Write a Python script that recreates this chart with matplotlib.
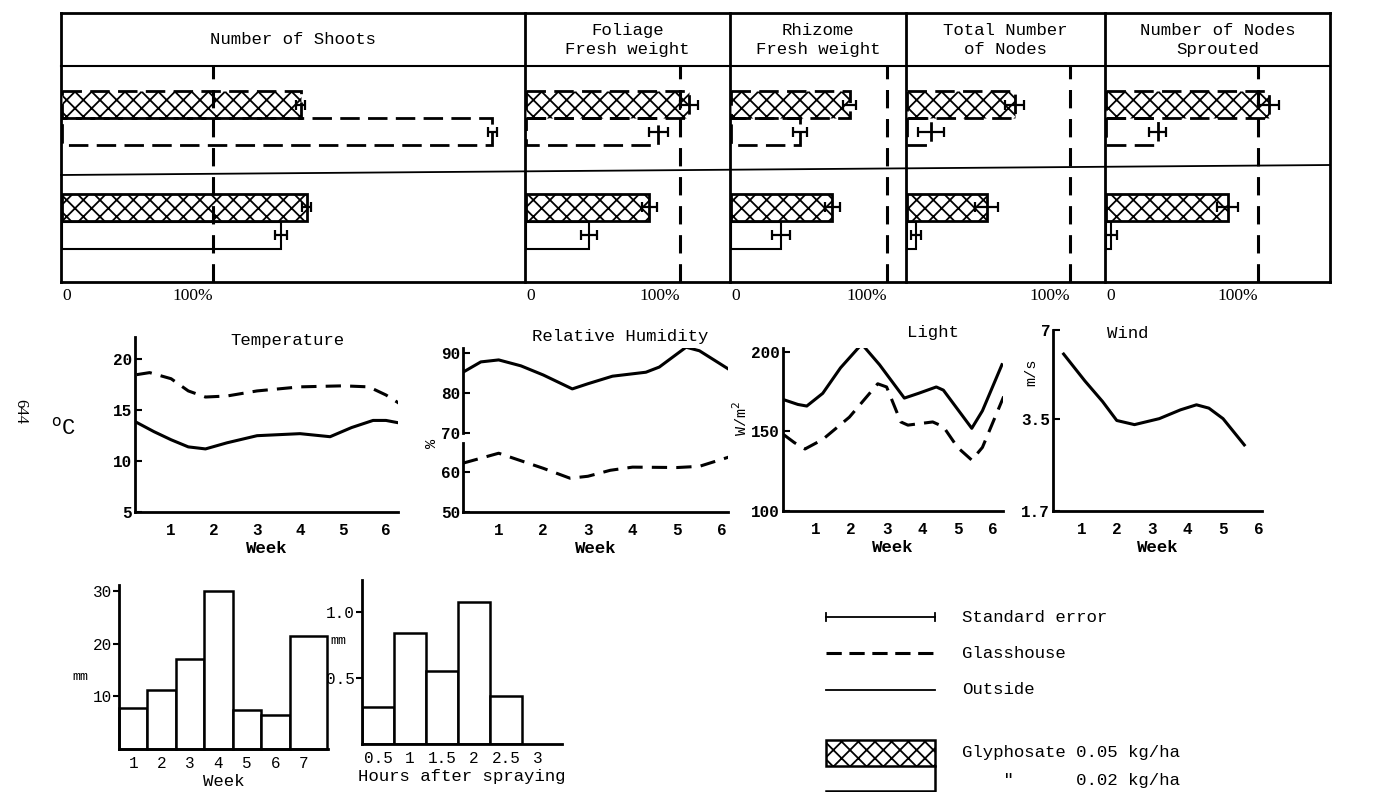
import numpy as np
import matplotlib
matplotlib.use("Agg")
import matplotlib.pyplot as plt
from matplotlib.patches import Rectangle
from matplotlib.ticker import FixedLocator, NullLocator

plt.rcParams['font.family'] = ['Liberation Mono', 'DejaVu Sans Mono']
plt.rcParams['hatch.linewidth'] = 1.3

# ---- data: top panel (% of untreated control) ----
metrics = ["Number of Shoots", "Foliage\nFresh weight", "Rhizome\nFresh weight",
           "Total Number\nof Nodes", "Number of Nodes\nSprouted"]
gh_high = [158, 106, 76, 66, 107]      # glasshouse, 0.05 kg/ha
gh_high_se = [3, 6, 4, 6, 7]
gh_low = [285, 86, 44, 15, 34]         # glasshouse, 0.02 kg/ha
gh_low_se = [3, 6, 4.5, 8, 5.5]
out_high = [162, 80, 65, 49, 80]       # outside, 0.05 kg/ha
out_high_se = [3, 5, 5, 7, 7]
out_low = [145, 41, 32, 5.5, 3]        # outside, 0.02 kg/ha
out_low_se = [4, 5, 5.5, 3, 4]

# ---- data: weather ----
temp_gh_wk = [0.2, 0.5, 1.0, 1.4, 1.8, 2.3, 3.0, 4.0, 5.0, 5.6, 6.0, 6.3]
temp_gh = [18.5, 18.7, 18.1, 16.9, 16.3, 16.4, 16.9, 17.3, 17.4, 17.3, 16.5, 15.7]
temp_out_wk = [0.2, 0.6, 1.0, 1.4, 1.8, 2.3, 3.0, 4.0, 4.7, 5.2, 5.7, 6.0, 6.25]
temp_out = [13.8, 12.9, 12.1, 11.4, 11.2, 11.8, 12.5, 12.7, 12.4, 13.3, 14.0, 14.0, 13.8]

rh_out_wk = [0.2, 0.6, 1.0, 1.5, 2.0, 2.65, 3.0, 3.55, 4.3, 4.6, 5.2, 5.5, 6.15]
rh_out = [85.2, 87.8, 88.3, 86.8, 84.5, 81.0, 82.3, 84.2, 85.2, 86.5, 91.5, 90.6, 86.0]
rh_gh_wk = [0.2, 1.0, 2.0, 2.6, 3.0, 3.5, 4.0, 5.0, 5.5, 6.15]
rh_gh = [62.3, 64.8, 61.0, 58.5, 59.0, 60.5, 61.3, 61.2, 61.5, 63.8]

light_out_wk = [0.1, 0.5, 0.75, 1.2, 1.7, 2.3, 2.8, 3.5, 3.9, 4.4, 4.6, 5.0, 5.4, 5.7, 6.25]
light_out = [170, 167, 166, 174, 190, 205, 192, 171, 174, 178, 176, 164, 152, 163, 192]
light_gh_wk = [0.1, 0.4, 0.7, 1.2, 1.95, 2.75, 3.0, 3.4, 3.6, 4.3, 4.6, 5.0, 5.4, 5.7, 6.3]
light_gh = [148, 143, 139, 145, 159, 180, 178, 156, 154, 156, 153, 140, 132, 140, 172]

wind_wk = [0.5, 1.1, 1.6, 2.0, 2.5, 3.2, 3.8, 4.25, 4.6, 5.0, 5.6]
wind = [5.8, 4.7, 4.0, 3.45, 3.34, 3.5, 3.75, 3.9, 3.8, 3.5, 2.85]

rain_weeks = [1, 2, 3, 4, 5, 6, 7]
rain_mm = [7.7, 11.1, 17.1, 30, 7.4, 6.5, 21.4]
hours = [0.5, 1, 1.5, 2, 2.5]
hour_labels = ["0.5", "1", "1.5", "2", "2.5", "3"]
hour_mm = [0.28, 0.84, 0.55, 1.07, 0.36]

W, H = 1399, 792
fig = plt.figure(figsize=(W / 100, H / 100), dpi=100)
fig.patch.set_facecolor('white')


def px_axes(l, t, r, b):
    a = fig.add_axes([l / W, 1 - b / H, (r - l) / W, (b - t) / H])
    a.patch.set_alpha(0)
    return a


ov = fig.add_axes([0, 0, 1, 1])
ov.set_xlim(0, W)
ov.set_ylim(H, 0)
ov.axis('off')

dash_bar = (0, (7, 3))
dash_ref = (0, (6, 3.5))
dash_curve = (0, (5, 3))

# ---- top panel frame ----
col_edges = [61, 525, 730, 906, 1105, 1330]
zero_px = [62, 526, 731, 907, 1106]
full_px = [213, 680, 887, 1070, 1258]
top_y, head_y, bot_y = 13, 66, 282
lk = dict(color='black', lw=2)
ov.plot([61, 1330], [top_y, top_y], **lk)
ov.plot([61, 1330], [head_y, head_y], color='black', lw=1.5)
ov.plot([61, 1330], [bot_y, bot_y], **lk)
ov.plot([61, 1330], [175, 165], color='black', lw=1.3)
for x in col_edges:
    ov.plot([x, x], [top_y, bot_y], **lk)

for i, name in enumerate(metrics):
    cx = (col_edges[i] + col_edges[i + 1]) / 2
    ov.text(cx, 40, name, ha='center', va='center', fontsize=12.5, linespacing=1.35)

    ax = px_axes(col_edges[i], head_y, col_edges[i + 1], bot_y)
    scale = (full_px[i] - zero_px[i]) / 100.0
    ax.set_xlim((col_edges[i] - zero_px[i]) / scale, (col_edges[i + 1] - zero_px[i]) / scale)
    ax.set_ylim(8, 0)
    for s in ax.spines.values():
        s.set_visible(False)
    ax.set_yticks([])
    ax.set_xticks([0, 100])
    ax.set_xticklabels(['' if i == 3 else '0', '100%'], family='Liberation Serif', fontsize=12.5)
    ax.get_xticklabels()[0].set_ha('left')
    ax.get_xticklabels()[1].set_ha('right')
    ax.tick_params(axis='x', length=0, pad=4)

    bh = 1.0
    ax.barh(1.43, gh_high[i], height=bh, color='white', edgecolor='black', hatch='xx',
            lw=2, ls=dash_bar)
    ax.barh(2.44, gh_low[i], height=bh, fill=False, edgecolor='black', lw=2, ls=dash_bar)
    ax.barh(5.24, out_high[i], height=bh, color='white', edgecolor='black', hatch='xx', lw=2)
    ax.barh(6.26, out_low[i], height=bh, fill=False, edgecolor='black', lw=1.5)
    ax.errorbar([gh_high[i], gh_low[i], out_high[i], out_low[i]], [1.43, 2.44, 5.24, 6.26],
                xerr=[gh_high_se[i], gh_low_se[i], out_high_se[i], out_low_se[i]],
                fmt='none', ecolor='black', elinewidth=1.6, capsize=3.5, capthick=1.6)
    ax.axvline(100, color='black', lw=2.2, ls=dash_ref)


# ---- weather line plots ----
def style_line_axes(ax, yticks, ylabels):
    for s in ['top', 'right']:
        ax.spines[s].set_visible(False)
    for s in ['left', 'bottom']:
        ax.spines[s].set_linewidth(2)
    ax.set_yticks(yticks)
    ax.set_yticklabels(ylabels, fontsize=11.5, weight='bold')
    ax.yaxis.set_minor_locator(NullLocator())
    ax.tick_params(axis='y', direction='in', length=5, width=1.5, pad=2)
    ax.set_xticks([1, 2, 3, 4, 5, 6])
    ax.set_xticklabels(['1', '2', '3', '4', '5', '6'], fontsize=11.5, weight='bold')
    ax.tick_params(axis='x', length=0, pad=8)
    ax.set_xlabel('Week', fontsize=12.5, weight='bold', labelpad=2)


lw_c = 2.2
ax_t = px_axes(135, 337, 398, 512)
ax_t.plot(temp_gh_wk, temp_gh, color='black', lw=lw_c, ls=dash_curve)
ax_t.plot(temp_out_wk, temp_out, color='black', lw=lw_c)
ax_t.set_xlim(0.16, 6.28)
ax_t.set_ylim(5, 22.2)
style_line_axes(ax_t, [5, 10, 15, 20], ['5', '10', '15', '20'])

ax_h = px_axes(463, 348, 728, 512)
ax_h.plot(rh_out_wk, rh_out, color='black', lw=lw_c)
ax_h.plot(rh_gh_wk, rh_gh, color='black', lw=lw_c, ls=dash_curve)
ax_h.set_xlim(0.2, 6.14)
ax_h.set_ylim(50, 91.3)
style_line_axes(ax_h, [50, 60, 70, 80, 90], ['50', '60', '70', '80', '90'])
ax_h.spines['left'].set_visible(False)
ax_h.plot([0, 0], [50, 67.5], color='black', lw=2, transform=ax_h.get_yaxis_transform(), clip_on=False)
ax_h.plot([0, 0], [70, 91.3], color='black', lw=2, transform=ax_h.get_yaxis_transform(), clip_on=False)

ax_l = px_axes(783, 348, 1003, 511)
ax_l.plot(light_out_wk, light_out, color='black', lw=lw_c)
ax_l.plot(light_gh_wk, light_gh, color='black', lw=lw_c, ls=dash_curve)
ax_l.set_xlim(0.08, 6.28)
ax_l.set_ylim(100, 202.5)
style_line_axes(ax_l, [100, 150, 200], ['100', '150', '200'])

ax_w = px_axes(1053, 330, 1262, 511)
ax_w.plot(wind_wk, wind, color='black', lw=lw_c)
ax_w.set_yscale('log')
ax_w.set_xlim(0.2, 6.1)
ax_w.set_ylim(1.7, 7)
style_line_axes(ax_w, [1.7, 3.5, 7], ['1.7', '3.5', '7'])

ov.text(287, 340, 'Temperature', ha='center', va='center', fontsize=12.5)
ov.text(620, 337, 'Relative Humidity', ha='center', va='center', fontsize=12.5)
ov.text(933, 333, 'Light', ha='center', va='center', fontsize=12.5)
ov.text(1128, 333, 'Wind', ha='center', va='center', fontsize=12.5)
ov.text(63, 428, r'$^{\rm o}$C', ha='center', va='center', fontsize=16)
ov.text(432, 443, '%', ha='center', va='center', fontsize=11, rotation=90)
ov.text(741, 418, r'W/m$^2$', ha='center', va='center', fontsize=11, rotation=90)
ov.text(1031, 372, 'm/s', ha='center', va='center', fontsize=11, rotation=90)
ov.text(20, 412, '644', ha='center', va='center', fontsize=12, rotation=-90,
        family='Liberation Serif')


# ---- rainfall bar plots ----
def style_bar_axes(ax):
    for s in ['top', 'right']:
        ax.spines[s].set_visible(False)
    for s in ['left', 'bottom']:
        ax.spines[s].set_linewidth(2)
    ax.tick_params(axis='y', direction='out', length=4, width=1.5, pad=1, labelsize=11.5)
    ax.tick_params(axis='x', length=0, pad=5, labelsize=11.5)


ax_r = px_axes(119, 585, 328, 749)
rain_w = [1, 1, 1, 1, 1, 1, 1.3]
ax_r.bar([w - 0.5 for w in rain_weeks], rain_mm, width=rain_w, align='edge',
         color='white', edgecolor='black', lw=1.8, clip_on=False)
ax_r.set_xlim(0.5, 7.85)
ax_r.set_ylim(0, 31.1)
ax_r.set_yticks([10, 20, 30])
ax_r.set_xticks(rain_weeks)
style_bar_axes(ax_r)
ax_r.set_xlabel('Week', fontsize=12.5, labelpad=2)

ax_s = px_axes(362, 580, 562, 744)
ax_s.bar(hours, hour_mm, width=0.5, color='white', edgecolor='black', lw=1.8)
ax_s.set_xlim(0.25, 3.375)
ax_s.set_ylim(0, 1.24)
ax_s.set_yticks([0.5, 1.0])
ax_s.set_yticklabels(['0.5', '1.0'])
ax_s.set_xticks([0.5, 1, 1.5, 2, 2.5, 3])
ax_s.set_xticklabels(hour_labels)
style_bar_axes(ax_s)
ax_s.set_xlabel('Hours after spraying', fontsize=12.5, labelpad=2)

ov.text(80, 677, 'mm', ha='center', va='center', fontsize=9.5)
ov.text(338, 641, 'mm', ha='center', va='center', fontsize=9.5)

# ---- legend ----
lx0, lx1, tx = 826, 935, 962
ov.plot([lx0, lx1], [617, 617], color='black', lw=1.3)
ov.plot([lx0, lx0], [613, 621], color='black', lw=1.3)
ov.plot([lx1, lx1], [613, 621], color='black', lw=1.3)
ov.text(tx, 617, 'Standard error', va='center', fontsize=12.5)
ov.plot([lx0, lx1], [653, 653], color='black', lw=2.2, ls=(0, (5, 2.5)))
ov.text(tx, 653, 'Glasshouse', va='center', fontsize=12.5)
ov.plot([lx0, lx1], [690, 690], color='black', lw=1.3)
ov.text(tx, 690, 'Outside', va='center', fontsize=12.5)
ov.add_patch(Rectangle((lx0, 740), lx1 - lx0, 26, facecolor='white', edgecolor='black',
                       hatch='xx', lw=1.8))
ov.plot([lx1, lx1, lx0], [766, 791, 791], color='black', lw=1.8)
ov.text(tx, 753, 'Glyphosate 0.05 kg/ha', va='center', fontsize=12.5)
ov.text(tx, 780, '    "      0.02 kg/ha', va='center', fontsize=12.5)

fig.savefig('out.png', dpi=100)
